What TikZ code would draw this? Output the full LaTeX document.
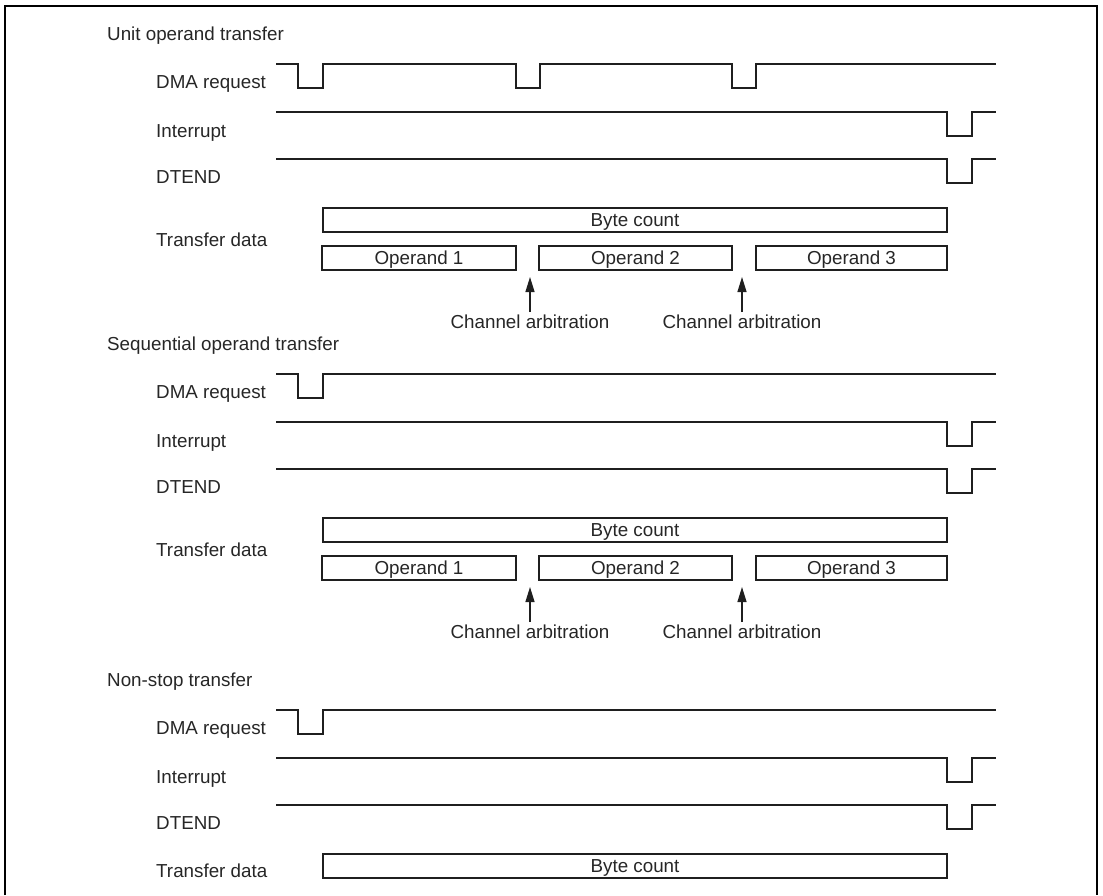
\documentclass[tikz,border=0pt]{standalone}
\usepackage{fontspec}
\setmainfont{Liberation Sans}
\usetikzlibrary{arrows.meta}
\definecolor{ink}{gray}{0.12}
\definecolor{txt}{gray}{0.15}
\begin{document}
\begin{tikzpicture}[x=1pt,y=-1pt,
  lbl/.style={font=\fontsize{18.8}{21}\selectfont, text=txt, inner sep=0pt, anchor=base west},
  wave/.style={line width=2.2pt, draw=ink, line join=miter},
  databox/.style={draw=ink, line width=2.2pt, minimum height=24pt, inner sep=0pt,
    text height=13.5pt, text depth=0pt, font=\fontsize{18.8}{21}\selectfont, text=txt},
  arblbl/.style={font=\fontsize{18.8}{21}\selectfont, text=txt, inner xsep=0pt, inner ysep=2pt, anchor=base},
  arbarrow/.style={draw=ink, line width=1.3pt, -{Triangle[length=15pt,width=9pt]}},
  frame/.style={draw=black, line width=2.2pt}]
\useasboundingbox (0,0) rectangle (1103,895);
\draw[frame] (5,895) -- (5,6) -- (1097,6) -- (1097,895);

% common rows of the three sections
\foreach \s/\dy/\ttl in {1/0/Unit operand transfer, 2/310/Sequential operand transfer, 3/646/Non-stop transfer}{
  \begin{scope}[shift={(0,\dy)}]
    \node[lbl] (title\s) at (107,40) {\ttl};
    \node[lbl] (dma\s) at (156,88) {DMA request};
    \node[lbl] (int\s) at (156,137) {Interrupt};
    \node[lbl] (dte\s) at (156,183) {DTEND};
    \draw[wave] (276,112) -- (947,112) -- (947,136) -- (972,136) -- (972,112) -- (996,112);
    \draw[wave] (276,159) -- (947,159) -- (947,183) -- (972,183) -- (972,159) -- (996,159);
  \end{scope}
}

% section 1: unit operand transfer
\draw[wave] (276,64) -- (298,64) -- (298,88) -- (323,88) -- (323,64) -- (516,64) -- (516,88)
  -- (540,88) -- (540,64) -- (732,64) -- (732,88) -- (756,88) -- (756,64) -- (996,64);
% sections 2 and 3: single request pulse
\foreach \dy in {310,646}{
  \draw[wave, shift={(0,\dy)}] (276,64) -- (298,64) -- (298,88) -- (323,88) -- (323,64) -- (996,64);
}

% transfer data of sections 1 and 2
\foreach \s/\dy in {1/0, 2/310}{
  \begin{scope}[shift={(0,\dy)}]
    \node[lbl] (td\s) at (156,246) {Transfer data};
    \node[databox, minimum width=624pt] (bc\s) at (635,220) {Byte count};
    \node[databox, minimum width=194pt] (opa\s) at (419,258) {Operand 1};
    \node[databox, minimum width=193pt] (opb\s) at (635.5,258) {Operand 2};
    \node[databox, minimum width=191pt] (opc\s) at (851.5,258) {Operand 3};
    \coordinate (gapa\s) at (530,277);
    \coordinate (gapb\s) at (742,277);
    \node[arblbl] (arba\s) at (530,328) {Channel arbitration};
    \node[arblbl] (arbb\s) at (742,328) {Channel arbitration};
    \draw[arbarrow] (arba\s.north) -- (gapa\s);
    \draw[arbarrow] (arbb\s.north) -- (gapb\s);
  \end{scope}
}

% transfer data of section 3
\node[lbl] (td3) at (156,877) {Transfer data};
\node[databox, minimum width=624pt] (bc3) at (635,866) {Byte count};
\end{tikzpicture}
\end{document}
